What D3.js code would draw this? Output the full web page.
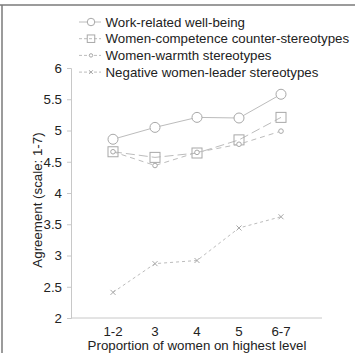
<!DOCTYPE html>
<html>
<head>
<meta charset="utf-8">
<script src="https://cdn.jsdelivr.net/npm/d3@7"></script>
<style>
  body { margin: 0; background: #fff; }
  text { font-family: "Liberation Sans", Arial, sans-serif; fill: #222; }
</style>
</head>
<body>
<div id="chart"></div>
<script>
// categories on the x axis
var categories = ["1-2", "3", "4", "5", "6-7"];
var yTicks = [2, 2.5, 3, 3.5, 4, 4.5, 5, 5.5, 6];

// series values
var wellBeing   = [4.86, 5.05, 5.21, 5.20, 5.58];
var competence  = [4.66, 4.57, 4.64, 4.85, 5.21];
var warmth      = [4.66, 4.44, 4.65, 4.78, 4.99];
var negative    = [2.41, 2.87, 2.92, 3.44, 3.62];

var seriesNames = [
  "Work-related well-being",
  "Women-competence counter-stereotypes",
  "Women-warmth stereotypes",
  "Negative women-leader stereotypes"
];

var series = [
  {name: seriesNames[0], values: wellBeing,  dash: null,  marker: "circle"},
  {name: seriesNames[1], values: competence, dash: "9,4", marker: "square"},
  {name: seriesNames[2], values: warmth,     dash: "5,4", marker: "dot"},
  {name: seriesNames[3], values: negative,   dash: "3,3", marker: "cross"}
];

var W = 355, H = 353;
var fs = "13.3px";
var svg = d3.select("#chart").append("svg")
    .attr("width", W)
    .attr("height", H);

// frame (top and left edges)
svg.append("line").attr("x1", 0).attr("x2", W).attr("y1", 5).attr("y2", 5)
    .style("stroke", "#7a7a7a").style("stroke-width", 1.5);
svg.append("line").attr("x1", 2).attr("x2", 2).attr("y1", 5).attr("y2", H)
    .style("stroke", "#7a7a7a").style("stroke-width", 1.5);

var xScale = d3.scalePoint()
    .domain(categories)
    .range([113, 281]);

var yScale = d3.scaleLinear()
    .domain([2, 6])
    .range([318, 68]);

// y axis
var yAxis = d3.axisLeft(yScale).tickValues(yTicks).tickSize(4).tickPadding(5)
    .tickFormat(function(d) { return d; });
var gy = svg.append("g").attr("transform", "translate(71,0)").call(yAxis);
gy.select(".domain").style("stroke", "#c8c8c8");
gy.selectAll(".tick line").style("stroke", "#c8c8c8");
gy.selectAll(".tick text").style("font-size", fs).style("fill", "#222")
    .attr("font-family", "Liberation Sans, Arial, sans-serif");

// x axis
svg.append("line").attr("x1", 71).attr("x2", 322)
    .attr("y1", yScale(2)).attr("y2", yScale(2))
    .style("stroke", "#c8c8c8");
svg.selectAll(".xlab").data(categories).enter().append("text")
    .attr("class", "xlab")
    .attr("x", function(d) { return xScale(d); })
    .attr("y", 335.5)
    .attr("text-anchor", "middle")
    .style("font-size", fs)
    .text(function(d) { return d; });

svg.append("text")
    .attr("x", 197).attr("y", 349.5)
    .attr("text-anchor", "middle")
    .style("font-size", fs)
    .text("Proportion of women on highest level");

svg.append("text")
    .attr("transform", "translate(41.5,200) rotate(-90)")
    .attr("text-anchor", "middle")
    .style("font-size", fs)
    .text("Agreement (scale: 1-7)");

var line = d3.line()
    .x(function(d, i) { return xScale(categories[i]); })
    .y(function(d) { return yScale(d); });

var lineColor = "#bcbcbc", markColor = "#a8a8a8";

function drawMarker(g, type, x, y, k) {
  k = k || 1;
  if (type === "circle") {
    g.append("circle").attr("cx", x).attr("cy", y).attr("r", 5 * k)
      .style("fill", "#fff").style("stroke", markColor);
  } else if (type === "square") {
    g.append("rect").attr("x", x - 5 * k).attr("y", y - 5 * k)
      .attr("width", 10 * k).attr("height", 10 * k)
      .style("fill", "none").style("stroke", markColor);
  } else if (type === "dot") {
    g.append("circle").attr("cx", x).attr("cy", y).attr("r", 2.3 * k)
      .style("fill", "#fff").style("stroke", markColor);
  } else {
    var r = 2.5 * k;
    g.append("path")
      .attr("d", "M" + (x - r) + "," + (y - r) + "L" + (x + r) + "," + (y + r) +
                 "M" + (x - r) + "," + (y + r) + "L" + (x + r) + "," + (y - r))
      .style("stroke", markColor);
  }
}

series.forEach(function(s) {
  svg.append("path")
    .datum(s.values)
    .attr("d", line)
    .style("fill", "none")
    .style("stroke", lineColor)
    .style("stroke-width", 1)
    .style("stroke-dasharray", s.dash);
  var g = svg.append("g");
  s.values.forEach(function(v, i) {
    drawMarker(g, s.marker, xScale(categories[i]), yScale(v));
  });
});

// legend
var legend = svg.append("g");
series.forEach(function(s, i) {
  var ly = 22 + i * 16.7;
  legend.append("line")
    .attr("x1", 79).attr("x2", 101).attr("y1", ly).attr("y2", ly)
    .style("stroke", lineColor)
    .style("stroke-dasharray", s.dash ? "3,2" : null);
  drawMarker(legend, s.marker, 91, ly, 0.75);
  legend.append("text")
    .attr("x", 105.5).attr("y", ly + 4.7)
    .style("font-size", fs)
    .text(s.name);
});
</script>
</body>
</html>
